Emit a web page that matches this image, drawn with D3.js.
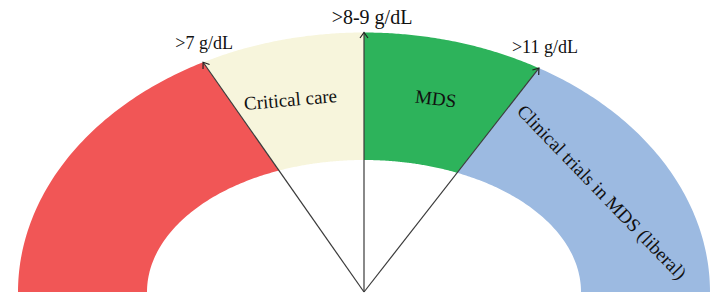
<!DOCTYPE html>
<html><head><meta charset="utf-8">
<script src="https://cdn.jsdelivr.net/npm/d3@7"></script>
<style>body{margin:0;background:#fff;overflow:hidden}</style></head>
<body><svg id="c" width="718" height="293"></svg>
<script>
// ---- data ----
const bands = ["", "Critical care", "MDS", "Clinical trials in MDS (liberal)"];
const bandSpans = [55, 35, 38, 52];          // share of the half-gauge per band
const thresholds = [">7 g/dL", ">8-9 g/dL", ">11 g/dL"];
const bandColors = ["#F15656", "#F7F5DC", "#2DB35B", "#9CBAE1"];

// ---- layout ----
const W = 718, H = 293;
const cx = 364, cy = 292;
const outer = {rx: 346, ry: 259.5}, inner = {rx: 217, ry: 132};
const svg = d3.select("#c");

const pie = d3.pie().sort(null).startAngle(-Math.PI / 2).endAngle(Math.PI / 2);
const arcs = pie(bandSpans);

function ept(a, e) {
  const s = Math.sin(a), c = Math.cos(a);
  const r = 1 / Math.sqrt((s / e.rx) ** 2 + (c / e.ry) ** 2);
  return [cx + r * s, cy - r * c];
}
const line = d3.line();
function bandPath(d) {
  const n = 80, pts = [];
  for (let i = 0; i <= n; i++) pts.push(ept(d.startAngle + (d.endAngle - d.startAngle) * i / n, outer));
  for (let i = n; i >= 0; i--) pts.push(ept(d.startAngle + (d.endAngle - d.startAngle) * i / n, inner));
  return line(pts) + "Z";
}

svg.selectAll("path.band").data(arcs).join("path")
  .attr("class", "band")
  .attr("d", bandPath)
  .attr("fill", (d, i) => bandColors[i]);

// arrow marker
svg.append("defs").append("marker")
  .attr("id", "arr").attr("markerUnits", "userSpaceOnUse")
  .attr("viewBox", "-8 -6 10 12").attr("refX", 0).attr("refY", 0)
  .attr("markerWidth", 10).attr("markerHeight", 12).attr("orient", "auto")
  .append("path").attr("d", "M-5.5,-4 L0,0 L-5.5,4")
  .attr("fill", "none").attr("stroke", "#222").attr("stroke-width", 1.2);

const cuts = arcs.slice(0, thresholds.length).map(d => d.endAngle);
svg.selectAll("line.arrow").data(cuts).join("line")
  .attr("class", "arrow")
  .attr("x1", cx).attr("y1", cy)
  .attr("x2", a => ept(a, outer)[0]).attr("y2", a => ept(a, outer)[1])
  .attr("stroke", "#3a3a3a").attr("stroke-width", 1.2)
  .attr("marker-end", "url(#arr)");

// threshold labels
const thrOffset = [[1, -13.5], [8, -9], [6, -15.5]];
const thrSize = [18, 20, 18];
svg.selectAll("text.thr").data(thresholds).join("text")
  .attr("class", "thr")
  .attr("x", (t, i) => ept(cuts[i], outer)[0] + thrOffset[i][0])
  .attr("y", (t, i) => ept(cuts[i], outer)[1] + thrOffset[i][1])
  .attr("text-anchor", "middle")
  .attr("font-family", "'Liberation Serif', 'Times New Roman', serif")
  .attr("font-size", (t, i) => thrSize[i])
  .attr("fill", "#111")
  .text(t => t);

// band labels
const bandLab = [null, {x: 291, y: 106, r: -5}, {x: 435, y: 105, r: 7}, {x: 602, y: 192, r: 46, mid: true}];
svg.selectAll("text.band").data(bands.map((b, i) => ({b, L: bandLab[i]})).filter(d => d.b))
  .join("text")
  .attr("class", "band")
  .attr("transform", d => `translate(${d.L.x},${d.L.y}) rotate(${d.L.r})`)
  .attr("text-anchor", "middle")
  .attr("dominant-baseline", d => d.L.mid ? "central" : null)
  .attr("font-family", "'Liberation Serif', 'Times New Roman', serif")
  .attr("font-size", 19)
  .attr("fill", "#111")
  .text(d => d.b);
</script>
</body></html>
